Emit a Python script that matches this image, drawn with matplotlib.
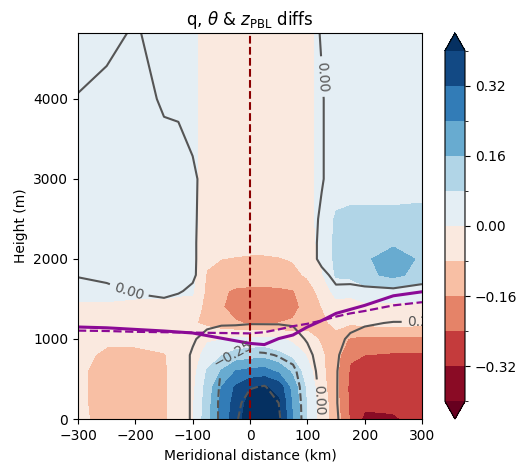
import numpy as np
import matplotlib.pyplot as plt

# grid (km, m)
x_km = [-300, -250, -200, -150, -125, -100, -75, -50, -25, 0,
        25, 50, 75, 100, 125, 150, 175, 200, 250, 300]
z_m = [0, 200, 400, 600, 800, 1000, 1200, 1400, 1600, 1800,
       2000, 2200, 2500, 3000, 4000, 4825]

# q difference (filled), one row per height
q_diff = [
    [-0.06, -0.11, -0.13, -0.09, -0.05, -0.01, 0.13, 0.27, 0.36, 0.45, 0.50, 0.42, 0.23, 0.075, -0.04, -0.12, -0.25, -0.34, -0.33, -0.29],
    [-0.06, -0.12, -0.13, -0.09, -0.05, -0.01, 0.12, 0.26, 0.35, 0.43, 0.47, 0.415, 0.225, 0.07, -0.04, -0.13, -0.26, -0.30, -0.30, -0.28],
    [-0.06, -0.12, -0.13, -0.09, -0.05, -0.02, 0.11, 0.24, 0.33, 0.39, 0.41, 0.37, 0.20, 0.06, -0.05, -0.14, -0.26, -0.29, -0.30, -0.29],
    [-0.06, -0.12, -0.12, -0.09, -0.05, -0.03, 0.085, 0.165, 0.24, 0.26, 0.27, 0.22, 0.14, 0.03, -0.06, -0.14, -0.25, -0.28, -0.29, -0.28],
    [-0.05, -0.10, -0.10, -0.085, -0.05, -0.04, 0.03, 0.075, 0.11, 0.125, 0.13, 0.10, 0.06, -0.01, -0.07, -0.13, -0.23, -0.24, -0.25, -0.25],
    [-0.04, -0.06, -0.06, -0.05, -0.04, -0.06, -0.01, -0.005, 0.015, 0.02, 0.02, 0.01, -0.02, -0.05, -0.09, -0.11, -0.17, -0.18, -0.18, -0.18],
    [-0.03, -0.03, -0.03, -0.03, -0.03, -0.07, -0.10, -0.13, -0.155, -0.165, -0.165, -0.16, -0.15, -0.11, -0.10, -0.06, -0.07, -0.06, -0.05, -0.06],
    [-0.01, -0.01, -0.01, -0.01, -0.02, -0.03, -0.11, -0.155, -0.185, -0.20, -0.20, -0.20, -0.185, -0.13, -0.08, -0.03, -0.03, -0.02, -0.02, -0.02],
    [0.02, 0.02, 0.01, 0.01, 0.01, 0.01, -0.10, -0.15, -0.17, -0.175, -0.175, -0.175, -0.165, -0.12, -0.05, 0.03, 0.02, 0.05, 0.06, 0.04],
    [0.02, 0.03, 0.03, 0.03, 0.02, 0.01, -0.09, -0.10, -0.12, -0.12, -0.12, -0.11, -0.10, -0.07, -0.01, 0.09, 0.10, 0.14, 0.18, 0.13],
    [0.03, 0.04, 0.04, 0.04, 0.03, 0.01, -0.06, -0.08, -0.085, -0.09, -0.09, -0.085, -0.075, -0.04, 0.01, 0.10, 0.11, 0.15, 0.19, 0.15],
    [0.03, 0.04, 0.04, 0.04, 0.03, 0.01, -0.03, -0.04, -0.05, -0.05, -0.05, -0.05, -0.04, -0.03, 0.02, 0.10, 0.11, 0.14, 0.15, 0.13],
    [0.03, 0.04, 0.04, 0.04, 0.03, 0.01, -0.02, -0.03, -0.04, -0.04, -0.04, -0.04, -0.03, -0.02, 0.02, 0.09, 0.10, 0.10, 0.10, 0.10],
    [0.03, 0.04, 0.04, 0.04, 0.03, 0.01, -0.02, -0.03, -0.03, -0.03, -0.03, -0.03, -0.03, -0.02, 0.02, 0.04, 0.04, 0.04, 0.04, 0.05],
    [0.03, 0.04, 0.04, 0.04, 0.02, 0.01, -0.02, -0.03, -0.03, -0.03, -0.03, -0.03, -0.03, -0.02, 0.02, 0.03, 0.03, 0.03, 0.03, 0.03],
    [0.03, 0.04, 0.04, 0.04, 0.02, 0.01, -0.02, -0.03, -0.03, -0.03, -0.03, -0.03, -0.03, -0.02, 0.02, 0.03, 0.03, 0.03, 0.03, 0.03],
]

# theta difference (contour lines), one row per height
theta_diff = [
    [0.10, 0.10, 0.10, 0.10, 0.08, -0.02, -0.15, -0.28, -0.48, -0.60, -0.62, -0.52, -0.35, -0.18, 0.05, 0.23, 0.35, 0.40, 0.40, 0.40],
    [0.10, 0.10, 0.10, 0.10, 0.08, -0.02, -0.15, -0.28, -0.46, -0.56, -0.58, -0.50, -0.35, -0.17, 0.05, 0.24, 0.35, 0.40, 0.40, 0.40],
    [0.10, 0.10, 0.10, 0.10, 0.08, -0.02, -0.15, -0.27, -0.40, -0.49, -0.51, -0.44, -0.34, -0.15, 0.06, 0.24, 0.35, 0.40, 0.40, 0.40],
    [0.10, 0.10, 0.10, 0.10, 0.08, -0.02, -0.14, -0.255, -0.33, -0.38, -0.38, -0.33, -0.29, -0.12, 0.08, 0.24, 0.34, 0.40, 0.40, 0.40],
    [0.10, 0.10, 0.10, 0.10, 0.08, -0.02, -0.12, -0.20, -0.27, -0.28, -0.27, -0.24, -0.19, -0.06, 0.10, 0.23, 0.32, 0.38, 0.38, 0.38],
    [0.10, 0.10, 0.10, 0.10, 0.08, 0.02, -0.06, -0.10, -0.12, -0.13, -0.12, -0.11, -0.08, 0.02, 0.10, 0.20, 0.28, 0.32, 0.33, 0.33],
    [0.10, 0.10, 0.10, 0.10, 0.08, 0.06, 0.04, 0.02, 0.02, 0.01, 0.01, 0.01, 0.02, 0.08, 0.10, 0.12, 0.20, 0.23, 0.26, 0.26],
    [0.10, 0.08, 0.05, 0.04, 0.05, 0.06, 0.08, 0.08, 0.08, 0.08, 0.08, 0.08, 0.08, 0.08, 0.10, 0.08, 0.10, 0.10, 0.12, 0.12],
    [0.06, 0.03, -0.01, -0.03, -0.01, 0.02, 0.08, 0.08, 0.08, 0.08, 0.08, 0.08, 0.08, 0.08, 0.08, 0.02, 0.03, 0.02, 0.01, 0.03],
    [-0.01, -0.03, -0.06, -0.06, -0.05, -0.02, 0.07, 0.07, 0.07, 0.07, 0.07, 0.07, 0.07, 0.07, 0.03, -0.03, -0.04, -0.05, -0.05, -0.04],
    [-0.06, -0.07, -0.08, -0.08, -0.06, -0.02, 0.06, 0.06, 0.06, 0.06, 0.06, 0.06, 0.06, 0.06, -0.03, -0.06, -0.06, -0.06, -0.06, -0.06],
    [-0.08, -0.08, -0.08, -0.08, -0.06, -0.02, 0.06, 0.06, 0.06, 0.06, 0.06, 0.06, 0.06, 0.06, -0.03, -0.06, -0.06, -0.06, -0.06, -0.06],
    [-0.08, -0.08, -0.08, -0.08, -0.05, -0.02, 0.05, 0.06, 0.06, 0.06, 0.06, 0.06, 0.06, 0.06, -0.02, -0.06, -0.06, -0.06, -0.06, -0.06],
    [-0.08, -0.08, -0.08, -0.07, -0.05, -0.02, 0.04, 0.06, 0.06, 0.06, 0.06, 0.06, 0.06, 0.06, 0.01, -0.06, -0.06, -0.06, -0.06, -0.06],
    [-0.01, -0.05, -0.06, 0.02, 0.02, 0.05, 0.08, 0.08, 0.08, 0.08, 0.08, 0.08, 0.08, 0.06, 0.01, -0.06, -0.06, -0.06, -0.06, -0.06],
    [0.10, 0.05, -0.02, 0.08, 0.10, 0.10, 0.10, 0.10, 0.10, 0.10, 0.10, 0.10, 0.10, 0.06, -0.01, -0.06, -0.06, -0.06, -0.06, -0.06],
]

# boundary layer height, two runs
pbl_x = [-300, -250, -200, -150, -100, -50, 0, 25, 50, 75, 100, 125, 150, 175, 200, 250, 300]
zpbl_solid = [1150, 1140, 1120, 1100, 1075, 1010, 945, 930, 1005, 1050, 1150, 1230, 1320, 1370, 1420, 1540, 1590]
zpbl_dashed = [1105, 1100, 1090, 1085, 1080, 1075, 1070, 1085, 1120, 1160, 1190, 1230, 1280, 1320, 1350, 1420, 1460]

q_levels = np.linspace(-0.4, 0.4, 11)
theta_levels = [-0.5, -0.25, 0.0, 0.25]
cbar_ticks = [-0.32, -0.16, 0.0, 0.16, 0.32]


def fmt_label(v):
    # unicode minus like the axis tick labels
    return f'{v:.2f}'.replace('-', '\u2212')


def main():
    fig = plt.figure(figsize=(5.25, 4.68), dpi=100)
    ax = fig.add_axes([0.1486, 0.1047, 0.6552, 0.8248])
    cax = fig.add_axes([0.8476, 0.1047, 0.0381, 0.8248])

    X, Z = np.meshgrid(x_km, z_m)
    cf = ax.contourf(X, Z, np.array(q_diff), levels=q_levels, cmap='RdBu', extend='both')

    cs = ax.contour(X, Z, np.array(theta_diff), levels=theta_levels, colors='#555555', linewidths=1.5)
    labels = ax.clabel(cs, fmt=fmt_label, fontsize=10, inline=True,
                       manual=[(-210, 1620), (125, 4280), (-31, 840), (117, 240), (300, 1200)])
    for t in labels:
        t.set_clip_on(True)

    ax.plot(pbl_x, zpbl_solid, color='#8b0a96', lw=2.2)
    ax.plot(pbl_x, zpbl_dashed, color='#8b0a96', lw=1.6, ls='--')
    ax.axvline(0, color='#8b0000', ls='--', lw=1.5)

    ax.set_xlim(-300, 300)
    ax.set_ylim(0, z_m[-1])
    ax.set_xticks([-300, -200, -100, 0, 100, 200, 300])
    ax.set_yticks([0, 1000, 2000, 3000, 4000])
    ax.set_xlabel('Meridional distance (km)')
    ax.set_ylabel('Height (m)')
    ax.set_title(r'q, $\theta$ & $z_{\rm PBL}$ diffs')

    cbar = fig.colorbar(cf, cax=cax, ticks=cbar_ticks)
    cbar.ax.yaxis.set_ticks([-0.4, -0.24, -0.08, 0.08, 0.24, 0.4], minor=True)

    fig.savefig('out.png', dpi=100)


if __name__ == "__main__":
    main()
